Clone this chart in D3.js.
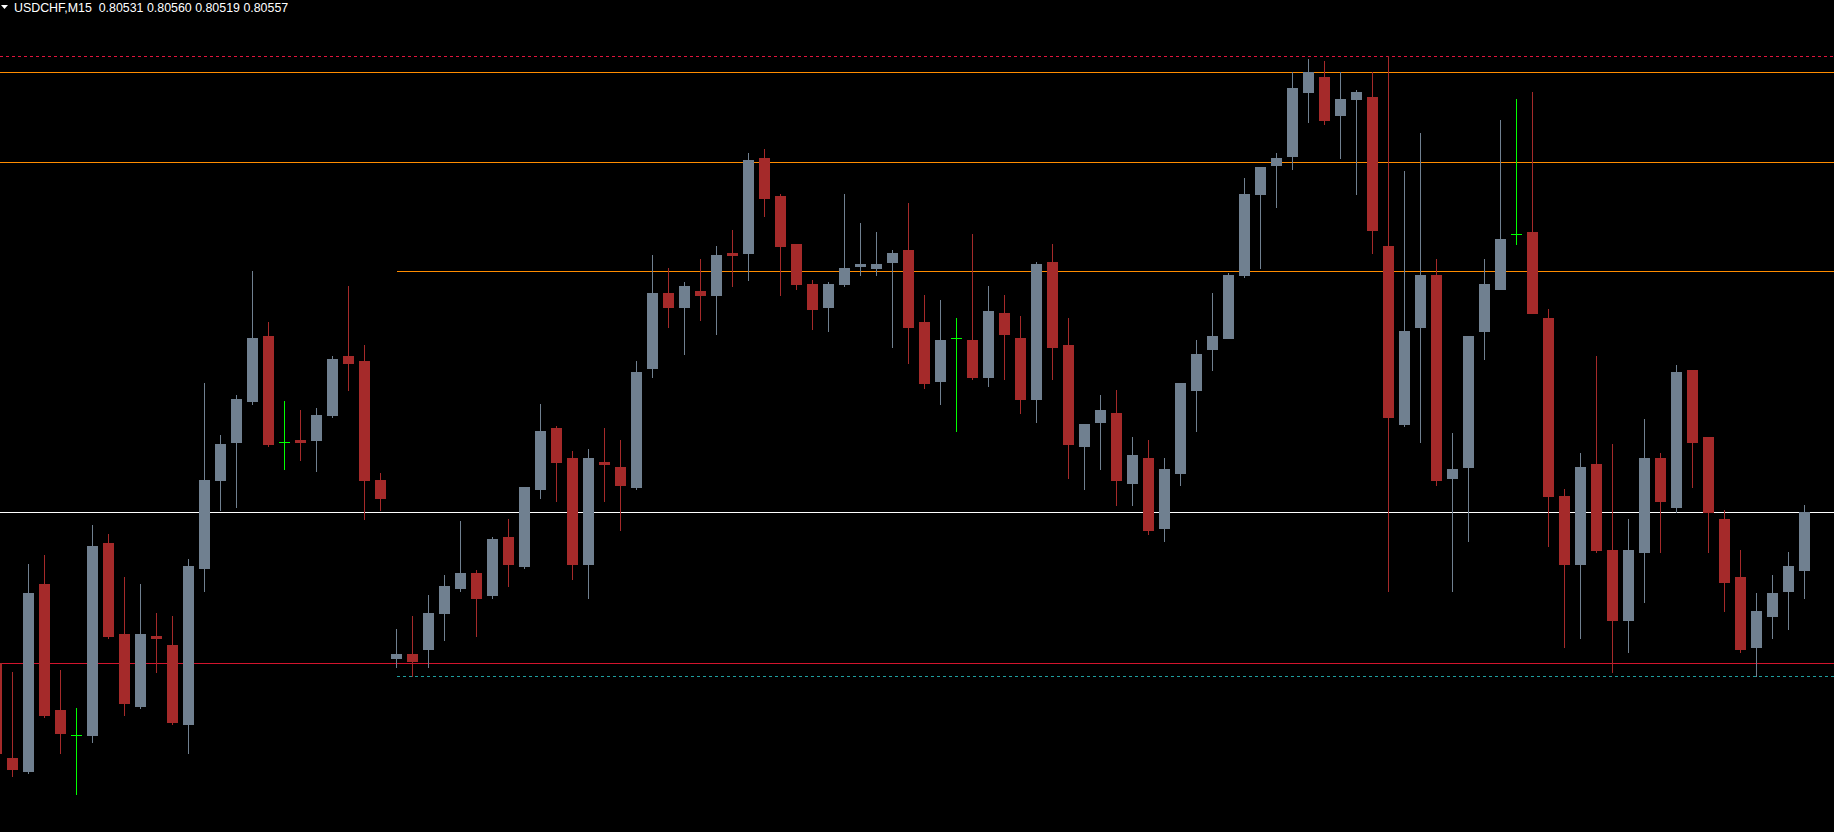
<!DOCTYPE html>
<html>
<head>
<meta charset="utf-8">
<script src="https://cdn.jsdelivr.net/npm/d3@7/dist/d3.min.js"></script>
<style>
  body { margin: 0; background: #000; overflow: hidden; }
  svg { display: block; }
</style>
</head>
<body>
<div id="chart"></div>
<script>
// USDCHF M15, one entry per candle (first one is cut off at the left edge)
const symbol = "USDCHF,M15"

const opens = [
  0.80490, 0.80448, 0.80442, 0.80525, 0.80469, 0.80458, 0.80458, 0.80543, 0.80503, 0.80471,
  0.80502, 0.80498, 0.80463, 0.80532, 0.80571, 0.80588, 0.80606, 0.80635, 0.80588, 0.80589,
  0.80589, 0.80600, 0.80626, 0.80624, 0.80571, 0.80492, 0.80494, 0.80496, 0.80512, 0.80523,
  0.80530, 0.80520, 0.80546, 0.80533, 0.80567, 0.80594, 0.80581, 0.80534, 0.80579, 0.80577,
  0.80568, 0.80621, 0.80654, 0.80648, 0.80655, 0.80653, 0.80672, 0.80672, 0.80714, 0.80697,
  0.80676, 0.80658, 0.80648, 0.80658, 0.80666, 0.80665, 0.80668, 0.80673, 0.80641, 0.80615,
  0.80634, 0.80633, 0.80617, 0.80645, 0.80634, 0.80607, 0.80668, 0.80631, 0.80586, 0.80597,
  0.80601, 0.80570, 0.80581, 0.80550, 0.80574, 0.80611, 0.80629, 0.80634, 0.80662, 0.80698,
  0.80711, 0.80715, 0.80743, 0.80750, 0.80733, 0.80740, 0.80741, 0.80675, 0.80596, 0.80639,
  0.80662, 0.80572, 0.80577, 0.80637, 0.80656, 0.80680, 0.80681, 0.80643, 0.80564, 0.80534,
  0.80578, 0.80540, 0.80509, 0.80539, 0.80581, 0.80559, 0.80620, 0.80590, 0.80554, 0.80528,
  0.80497, 0.80511, 0.80522, 0.80531
]
const highs = [
  0.80493, 0.80486, 0.80534, 0.80538, 0.80487, 0.80470, 0.80551, 0.80547, 0.80528, 0.80525,
  0.80512, 0.80511, 0.80536, 0.80614, 0.80591, 0.80609, 0.80664, 0.80641, 0.80606, 0.80602,
  0.80603, 0.80626, 0.80657, 0.80631, 0.80574, 0.80505, 0.80511, 0.80520, 0.80529, 0.80553,
  0.80531, 0.80546, 0.80554, 0.80568, 0.80605, 0.80595, 0.80584, 0.80585, 0.80594, 0.80589,
  0.80624, 0.80671, 0.80665, 0.80659, 0.80669, 0.80675, 0.80682, 0.80716, 0.80718, 0.80698,
  0.80676, 0.80660, 0.80659, 0.80698, 0.80685, 0.80681, 0.80673, 0.80694, 0.80653, 0.80651,
  0.80643, 0.80680, 0.80657, 0.80653, 0.80644, 0.80668, 0.80676, 0.80643, 0.80596, 0.80609,
  0.80611, 0.80590, 0.80589, 0.80581, 0.80614, 0.80633, 0.80654, 0.80663, 0.80705, 0.80710,
  0.80716, 0.80752, 0.80758, 0.80757, 0.80752, 0.80744, 0.80752, 0.80759, 0.80708, 0.80725,
  0.80669, 0.80592, 0.80635, 0.80669, 0.80731, 0.80740, 0.80743, 0.80647, 0.80567, 0.80583,
  0.80626, 0.80587, 0.80554, 0.80598, 0.80583, 0.80622, 0.80620, 0.80590, 0.80558, 0.80540,
  0.80521, 0.80529, 0.80539, 0.80560
]
const lows = [
  0.80448, 0.80440, 0.80441, 0.80466, 0.80450, 0.80432, 0.80455, 0.80501, 0.80467, 0.80470,
  0.80486, 0.80463, 0.80450, 0.80522, 0.80558, 0.80559, 0.80605, 0.80586, 0.80576, 0.80580,
  0.80575, 0.80599, 0.80611, 0.80554, 0.80558, 0.80488, 0.80484, 0.80488, 0.80500, 0.80522,
  0.80502, 0.80519, 0.80524, 0.80532, 0.80563, 0.80562, 0.80527, 0.80519, 0.80562, 0.80549,
  0.80567, 0.80617, 0.80639, 0.80627, 0.80642, 0.80636, 0.80657, 0.80660, 0.80688, 0.80653,
  0.80656, 0.80638, 0.80637, 0.80657, 0.80662, 0.80662, 0.80630, 0.80623, 0.80612, 0.80605,
  0.80593, 0.80616, 0.80613, 0.80616, 0.80601, 0.80597, 0.80616, 0.80572, 0.80567, 0.80576,
  0.80560, 0.80560, 0.80547, 0.80544, 0.80569, 0.80593, 0.80620, 0.80634, 0.80661, 0.80665,
  0.80692, 0.80709, 0.80730, 0.80729, 0.80714, 0.80698, 0.80672, 0.80522, 0.80595, 0.80588,
  0.80569, 0.80522, 0.80544, 0.80625, 0.80656, 0.80676, 0.80645, 0.80542, 0.80497, 0.80501,
  0.80539, 0.80486, 0.80495, 0.80517, 0.80539, 0.80557, 0.80568, 0.80539, 0.80513, 0.80495,
  0.80484, 0.80501, 0.80505, 0.80519
]
const closes = [
  0.80450, 0.80443, 0.80521, 0.80467, 0.80459, 0.80458, 0.80542, 0.80502, 0.80472, 0.80503,
  0.80501, 0.80464, 0.80533, 0.80571, 0.80587, 0.80607, 0.80634, 0.80587, 0.80588, 0.80588,
  0.80600, 0.80625, 0.80623, 0.80571, 0.80563, 0.80494, 0.80491, 0.80512, 0.80524, 0.80530,
  0.80519, 0.80545, 0.80534, 0.80568, 0.80593, 0.80579, 0.80534, 0.80581, 0.80578, 0.80569,
  0.80619, 0.80654, 0.80648, 0.80657, 0.80653, 0.80671, 0.80671, 0.80713, 0.80696, 0.80675,
  0.80658, 0.80647, 0.80658, 0.80665, 0.80667, 0.80667, 0.80672, 0.80639, 0.80614, 0.80633,
  0.80634, 0.80617, 0.80646, 0.80636, 0.80607, 0.80667, 0.80630, 0.80587, 0.80596, 0.80602,
  0.80571, 0.80582, 0.80549, 0.80576, 0.80614, 0.80627, 0.80635, 0.80662, 0.80698, 0.80710,
  0.80714, 0.80745, 0.80752, 0.80731, 0.80740, 0.80743, 0.80682, 0.80599, 0.80637, 0.80662,
  0.80571, 0.80576, 0.80635, 0.80658, 0.80678, 0.80680, 0.80645, 0.80564, 0.80534, 0.80577,
  0.80540, 0.80509, 0.80540, 0.80581, 0.80562, 0.80619, 0.80588, 0.80557, 0.80526, 0.80496,
  0.80513, 0.80521, 0.80533, 0.80557
]

// horizontal objects on the chart: price and first candle (null = whole width)
const levelNames  = ["maxDash", "resTop", "resMid", "resRay", "minLine", "minDash"]
const levelPrices = [0.80759, 0.80752, 0.80712, 0.80664, 0.80490, 0.80484]
const levelStarts = [null, null, null, 25, null, 25]

// visible price range of the window
const priceRange = [0.80415, 0.80784]

const style = {
  bg: "#000000",
  bull: "#708090",
  bear: "#a52a2a",
  doji: "#00ff00",
  bid: "#ffffff",
  maxDash: {color: "#e0143c", dash: "3,3"},
  resTop:  {color: "#ff8c00", dash: null},
  resMid:  {color: "#ff8c00", dash: null},
  resRay:  {color: "#ff8c00", dash: null},
  minLine: {color: "#d2142d", dash: null},
  minDash: {color: "#1f9e9e", dash: "3,3"}
}

const width = 1834, height = 832

const candles = opens.map((o, i) => ({
  i: i, open: o, high: highs[i], low: lows[i], close: closes[i]
}))

const svg = d3.select("#chart")
  .append("svg")
    .attr("width", width)
    .attr("height", height)
    .style("background", style.bg)

const x = d3.scaleBand()
  .domain(d3.range(candles.length))
  .range([-11.5, -11.5 + 16 * candles.length])
  .paddingInner(5 / 16)
  .paddingOuter(2.5 / 16)

const y = d3.scaleLinear()
  .domain(priceRange)
  .range([height, 0])

const py = p => Math.round(y(p)) + 0.5
const cx = i => x(i) + Math.floor(x.bandwidth() / 2) + 0.5

// level lines
const levels = levelNames.map((n, k) => ({name: n, price: levelPrices[k], start: levelStarts[k]}))

svg.append("g")
  .selectAll("line")
  .data(levels)
  .join("line")
    .attr("x1", d => d.start === null ? 0 : cx(d.start))
    .attr("x2", width)
    .attr("y1", d => py(d.price))
    .attr("y2", d => py(d.price))
    .attr("stroke", d => style[d.name].color)
    .attr("stroke-dasharray", d => style[d.name].dash)
    .attr("stroke-width", 1)
    .attr("shape-rendering", "crispEdges")

// bid line at last close
const lastClose = closes[closes.length - 1]
svg.append("line")
  .attr("x1", 0).attr("x2", width)
  .attr("y1", py(lastClose)).attr("y2", py(lastClose))
  .attr("stroke", style.bid)
  .attr("stroke-width", 1)
  .attr("shape-rendering", "crispEdges")

function candleColor(d) {
  if (d.open === d.close) return style.doji
  return d.close > d.open ? style.bull : style.bear
}

const g = svg.append("g")
  .selectAll("g")
  .data(candles)
  .join("g")
    .attr("class", "candle")

// wicks
g.append("line")
  .attr("x1", d => cx(d.i))
  .attr("x2", d => cx(d.i))
  .attr("y1", d => Math.round(y(d.high)))
  .attr("y2", d => Math.round(y(d.low)) + 1)
  .attr("stroke", candleColor)
  .attr("shape-rendering", "crispEdges")

// bodies
g.filter(d => d.open !== d.close)
  .append("rect")
    .attr("x", d => x(d.i))
    .attr("width", x.bandwidth())
    .attr("y", d => Math.round(y(Math.max(d.open, d.close))))
    .attr("height", d => Math.max(1, Math.round(y(Math.min(d.open, d.close))) - Math.round(y(Math.max(d.open, d.close))) + 1))
    .attr("fill", candleColor)
    .attr("shape-rendering", "crispEdges")

// doji crosses
g.filter(d => d.open === d.close)
  .append("line")
    .attr("x1", d => x(d.i))
    .attr("x2", d => x(d.i) + x.bandwidth())
    .attr("y1", d => py(d.open))
    .attr("y2", d => py(d.open))
    .attr("stroke", style.doji)
    .attr("shape-rendering", "crispEdges")

// header
const last = candles[candles.length - 1]
const fmt = d3.format(".5f")
svg.append("path")
  .attr("d", "M1,5L8,5L4.5,9Z")
  .attr("fill", "#ffffff")
svg.append("text")
  .attr("x", 14)
  .attr("y", 11.5)
  .attr("fill", "#ffffff")
  .style("font-family", "Liberation Sans, Arial, sans-serif")
  .style("font-size", "12.4px")
  .style("white-space", "pre")
  .text(`${symbol}  ${fmt(last.open)} ${fmt(last.high)} ${fmt(last.low)} ${fmt(last.close)}`)
</script>
</body>
</html>
